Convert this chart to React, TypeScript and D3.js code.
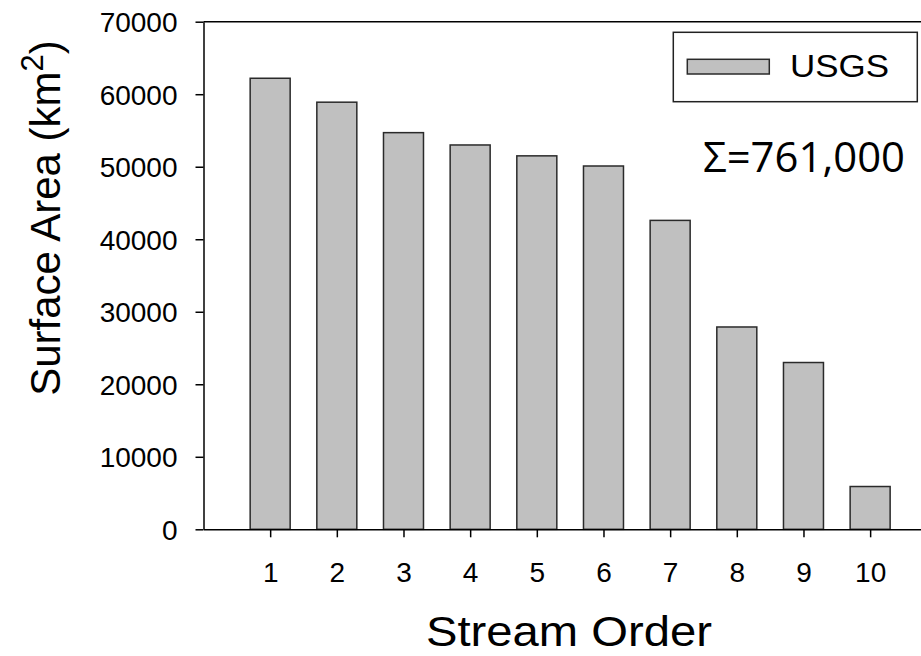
import React, { useEffect, useRef } from 'react';
import * as d3 from 'd3';

// Stream order categories and USGS surface area (km2)
const streamOrders = [1, 2, 3, 4, 5, 6, 7, 8, 9, 10];
const surfaceArea = [62200, 58900, 54700, 53000, 51500, 50100, 42600, 27900, 23000, 5900];
const yTicks = [0, 10000, 20000, 30000, 40000, 50000, 60000, 70000];
const seriesName = 'USGS';
const totalLabel = 'Σ=761,000';

const W = 921;
const H = 656;
const FONT = 'Arial, "Liberation Sans", sans-serif';

const App = () => {
  const svgRef = useRef<SVGSVGElement | null>(null);

  useEffect(() => {
    if (!svgRef.current) return;
    const svg = d3.select(svgRef.current);
    svg.selectAll('*').remove();

    const x = d3.scaleLinear().domain([0, 11]).range([203.5, 936.8]);
    const y = d3.scaleLinear().domain([0, 70000]).range([529.3, 21.7]);
    const barW = x(0.6) - x(0);

    // bars
    svg.append('g')
      .selectAll('rect')
      .data(streamOrders)
      .join('rect')
      .attr('x', (d) => x(d) - barW / 2)
      .attr('y', (d, i) => y(surfaceArea[i]))
      .attr('width', barW)
      .attr('height', (d, i) => y(0) - y(surfaceArea[i]))
      .attr('fill', '#c0c0c0')
      .attr('stroke', '#2a2a2a')
      .attr('stroke-width', 1.5);

    // top frame line
    svg.append('line')
      .attr('x1', x(0)).attr('x2', W)
      .attr('y1', y(70000)).attr('y2', y(70000))
      .attr('stroke', '#000').attr('stroke-width', 1.5);

    // y axis
    const yAxis = svg.append('g')
      .attr('transform', `translate(${x(0)},0)`)
      .call(d3.axisLeft(y).tickValues(yTicks).tickFormat(d3.format('d')).tickSize(8).tickSizeOuter(0).tickPadding(18));
    yAxis.select('.domain').attr('stroke', '#000').attr('stroke-width', 1.5);
    yAxis.selectAll('.tick line').attr('stroke', '#000').attr('stroke-width', 1.5);
    yAxis.selectAll('.tick text')
      .attr('font-family', FONT)
      .attr('font-size', 28)
      .attr('fill', '#000')
      .attr('dy', '0.36em');

    // x axis
    const xAxis = svg.append('g')
      .attr('transform', `translate(0,${y(0)})`)
      .call(d3.axisBottom(x).tickValues(streamOrders).tickFormat(d3.format('d')).tickSize(8).tickSizeOuter(0).tickPadding(0));
    xAxis.select('.domain').attr('stroke', '#000').attr('stroke-width', 1.5);
    xAxis.selectAll('.tick line').attr('stroke', '#000').attr('stroke-width', 1.5);
    xAxis.selectAll('.tick text')
      .attr('font-family', FONT)
      .attr('font-size', 28)
      .attr('fill', '#000')
      .attr('y', 52.4)
      .attr('dy', 0);

    // axis titles
    svg.append('text')
      .attr('x', 569)
      .attr('y', 646)
      .attr('text-anchor', 'middle')
      .attr('font-family', FONT)
      .attr('font-size', 42)
      .attr('textLength', 286)
      .attr('lengthAdjust', 'spacingAndGlyphs')
      .text('Stream Order');

    const yTitle = svg.append('text')
      .attr('transform', 'translate(60,218) rotate(-90)')
      .attr('text-anchor', 'middle')
      .attr('font-family', FONT)
      .attr('font-size', 42);
    yTitle.append('tspan').text('Surface Area (km');
    yTitle.append('tspan').attr('font-size', 31).attr('dy', -17).text('2');
    yTitle.append('tspan').attr('dy', 17).text(')');

    // legend
    const lg = svg.append('g');
    lg.append('rect')
      .attr('x', 673.3).attr('y', 32.3).attr('width', 244).attr('height', 69.4)
      .attr('fill', '#fff').attr('stroke', '#222').attr('stroke-width', 1.5);
    lg.append('rect')
      .attr('x', 687.3).attr('y', 59.3).attr('width', 82).attr('height', 14.7)
      .attr('fill', '#c0c0c0').attr('stroke', '#2a2a2a').attr('stroke-width', 1.5);
    lg.append('text')
      .attr('x', 790).attr('y', 76.5)
      .attr('font-family', FONT).attr('font-size', 32)
      .attr('textLength', 99)
      .attr('lengthAdjust', 'spacingAndGlyphs')
      .text(seriesName);

    // total annotation
    svg.append('text')
      .attr('x', 703).attr('y', 171.7)
      .attr('font-family', '"Open Sans", "Noto Sans", sans-serif')
      .attr('font-size', 42)
      .attr('textLength', 202)
      .attr('lengthAdjust', 'spacingAndGlyphs')
      .text(totalLabel);
  }, []);

  return (
    <svg
      ref={svgRef}
      width={W}
      height={H}
      style={{ position: 'absolute', left: 0, top: 0, background: '#fff', display: 'block' }}
    />
  );
};

export default App;
